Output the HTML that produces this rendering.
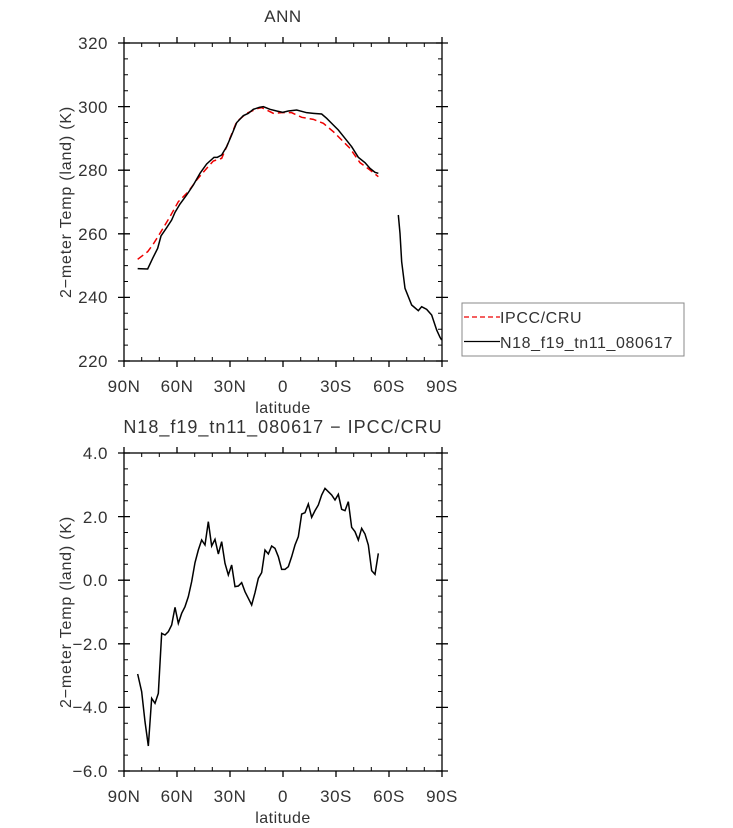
<!DOCTYPE html>
<html><head><meta charset="utf-8"><style>body{margin:0;background:#fff}svg{display:block}text{font-family:"Liberation Sans","DejaVu Sans",sans-serif;fill:#333}</style></head>
<body>
<svg width="733" height="828" viewBox="0 0 733 828" xmlns="http://www.w3.org/2000/svg">
<g stroke="#000" stroke-width="1.3" fill="none">
<rect x="124" y="43" width="318" height="318"/>
<rect x="124" y="453" width="318" height="318"/>
<path d="M124,43v-6M177,43v-6M230,43v-6M283,43v-6M336,43v-6M389,43v-6M442,43v-6
M124,361v6M177,361v6M230,361v6M283,361v6M336,361v6M389,361v6M442,361v6
M118,43h12M118,106.6h12M118,170.2h12M118,233.8h12M118,297.4h12M118,361h12
M436,43h12M436,106.6h12M436,170.2h12M436,233.8h12M436,297.4h12M436,361h12
M124,453v-6M177,453v-6M230,453v-6M283,453v-6M336,453v-6M389,453v-6M442,453v-6
M124,771v6M177,771v6M230,771v6M283,771v6M336,771v6M389,771v6M442,771v6
M118,453h12M118,516.6h12M118,580.2h12M118,643.8h12M118,707.4h12M118,771h12
M436,453h12M436,516.6h12M436,580.2h12M436,643.8h12M436,707.4h12M436,771h12"/>
<path stroke-width="1" d="M141.7,43v4M159.3,43v4M194.7,43v4M212.3,43v4M247.7,43v4M265.3,43v4M300.7,43v4M318.3,43v4M353.7,43v4M371.3,43v4M406.7,43v4M424.3,43v4
M141.7,361v-4M159.3,361v-4M194.7,361v-4M212.3,361v-4M247.7,361v-4M265.3,361v-4M300.7,361v-4M318.3,361v-4M353.7,361v-4M371.3,361v-4M406.7,361v-4M424.3,361v-4
M124,58.9h4M124,74.8h4M124,90.7h4M124,122.5h4M124,138.4h4M124,154.3h4M124,186.1h4M124,202h4M124,217.9h4M124,249.7h4M124,265.6h4M124,281.5h4M124,313.3h4M124,329.2h4M124,345.1h4
M442,58.9h-4M442,74.8h-4M442,90.7h-4M442,122.5h-4M442,138.4h-4M442,154.3h-4M442,186.1h-4M442,202h-4M442,217.9h-4M442,249.7h-4M442,265.6h-4M442,281.5h-4M442,313.3h-4M442,329.2h-4M442,345.1h-4
M141.7,453v4M159.3,453v4M194.7,453v4M212.3,453v4M247.7,453v4M265.3,453v4M300.7,453v4M318.3,453v4M353.7,453v4M371.3,453v4M406.7,453v4M424.3,453v4
M141.7,771v-4M159.3,771v-4M194.7,771v-4M212.3,771v-4M247.7,771v-4M265.3,771v-4M300.7,771v-4M318.3,771v-4M353.7,771v-4M371.3,771v-4M406.7,771v-4M424.3,771v-4
M124,468.9h4M124,484.8h4M124,500.7h4M124,532.5h4M124,548.4h4M124,564.3h4M124,596.1h4M124,612h4M124,627.9h4M124,659.7h4M124,675.6h4M124,691.5h4M124,723.3h4M124,739.2h4M124,755.1h4
M442,468.9h-4M442,484.8h-4M442,500.7h-4M442,532.5h-4M442,548.4h-4M442,564.3h-4M442,596.1h-4M442,612h-4M442,627.9h-4M442,659.7h-4M442,675.6h-4M442,691.5h-4M442,723.3h-4M442,739.2h-4M442,755.1h-4"/>
</g>
<g transform="translate(60,0) scale(0.33333)" fill="none" stroke-width="1.5">
<polyline vector-effect="non-scaling-stroke" stroke="#e00" stroke-dasharray="7,4" points="233,778 263,755 278,735 300,700 330,650 355,605 385,575 410,540 440,505 460,483 485,475 500,440 530,365 560,340 595,325 605,323 620,330 640,340 665,338 695,338 725,352 760,358 790,370 820,395 845,420 870,445 900,488 930,510 955,530"/>
<polyline vector-effect="non-scaling-stroke" stroke="#000" points="233,806 263,807 278,775 293,745 303,708 320,683 335,660 345,637 360,612 380,585 400,555 420,520 440,492 462,472 472,472 485,465 500,440 515,405 530,368 550,347 565,340 580,328 598,322 610,320 630,328 650,333 668,337 685,333 710,330 740,338 760,340 785,342 800,355 820,375 835,390 855,415 875,440 895,472 915,488 930,505 945,517 955,520"/>
<polyline vector-effect="non-scaling-stroke" stroke="#000" points="1015,645 1020,700 1025,785 1035,865 1055,915 1075,932 1085,920 1100,928 1115,945 1130,990 1140,1012 1145,1020"/>
</g>
<g transform="translate(60,410) scale(0.33333)" fill="none" stroke-width="1.5">
<polyline vector-effect="non-scaling-stroke" stroke="#000" points="233,792 245,845 255,935 265,1008 275,865 285,880 295,850 305,670 315,675 325,665 335,645 345,592 355,640 365,610 375,590 385,560 395,515 405,458 415,420 425,390 435,405 445,335 455,408 465,388 475,432 485,395 495,460 505,495 515,465 525,530 535,528 545,518 555,545 565,565 575,585 585,548 595,505 605,488 615,420 625,432 635,408 645,415 655,440 665,478 675,478 685,470 695,440 705,405 715,380 725,312 735,308 745,282 755,322 765,302 775,285 785,255 795,235 805,245 815,255 825,270 835,253 845,298 855,302 865,275 875,352 885,365 895,390 905,355 915,372 925,405 935,482 945,493 955,430"/>
</g>
<g font-size="17" text-anchor="end" letter-spacing="0.5">
<text x="108" y="49">320</text><text x="108" y="113">300</text><text x="108" y="176">280</text><text x="108" y="240">260</text><text x="108" y="303">240</text><text x="108" y="367">220</text>
<text x="108" y="459">4.0</text><text x="108" y="523">2.0</text><text x="108" y="586">0.0</text><text x="108" y="650">−2.0</text><text x="108" y="713">−4.0</text><text x="108" y="777">−6.0</text>
</g>
<g font-size="17" text-anchor="middle" letter-spacing="0.5">
<text x="124" y="392">90N</text><text x="177" y="392">60N</text><text x="230" y="392">30N</text><text x="283" y="392">0</text><text x="336" y="392">30S</text><text x="389" y="392">60S</text><text x="442" y="392">90S</text>
<text x="124" y="802">90N</text><text x="177" y="802">60N</text><text x="230" y="802">30N</text><text x="283" y="802">0</text><text x="336" y="802">30S</text><text x="389" y="802">60S</text><text x="442" y="802">90S</text>
<text x="283" y="413" font-size="16">latitude</text>
<text x="283" y="823" font-size="16">latitude</text>
<text x="283" y="22" font-size="17">ANN</text>
<text x="283" y="433" font-size="18" letter-spacing="1">N18_f19_tn11_080617 − IPCC/CRU</text>
<text transform="translate(71,202) rotate(-90)" font-size="16" letter-spacing="0.8">2−meter Temp (land) (K)</text>
<text transform="translate(71,612) rotate(-90)" font-size="16" letter-spacing="0.8">2−meter Temp (land) (K)</text>
</g>
<rect x="462" y="303" width="222" height="53" fill="none" stroke="#888" stroke-width="1"/>
<line x1="464" y1="317" x2="500" y2="317" stroke="#e00" stroke-width="1.3" stroke-dasharray="5,3"/>
<line x1="464" y1="341.5" x2="500" y2="341.5" stroke="#000" stroke-width="1.3"/>
<text x="500" y="323" font-size="16" letter-spacing="0.6">IPCC/CRU</text>
<text x="500" y="348" font-size="16" letter-spacing="0.6">N18_f19_tn11_080617</text>
</svg>
</body></html>
